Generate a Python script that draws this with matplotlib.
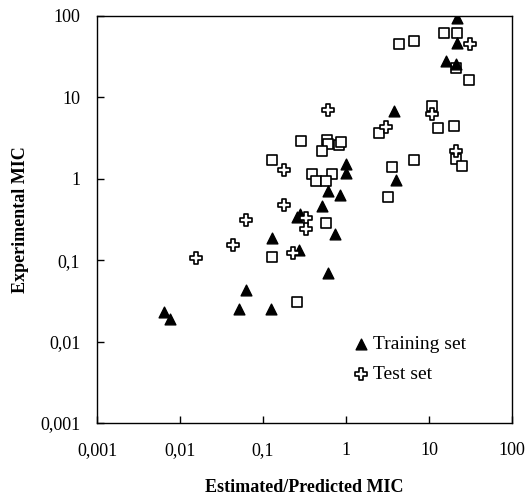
import matplotlib
matplotlib.use("Agg")
import matplotlib.pyplot as plt
from matplotlib.ticker import FixedLocator, FixedFormatter

plt.rcParams['font.family'] = ['Liberation Serif', 'DejaVu Serif']

# Training set (filled triangles)
train_x = [22, 22, 16, 21, 3.8, 1.0, 1.0, 4.0, 0.6, 0.85, 0.52, 0.26, 0.28, 0.74,
           0.127, 0.27, 0.6, 0.062, 0.051, 0.125, 0.0065, 0.0075]
train_y = [95, 47, 28, 26, 6.8, 1.5, 1.17, 0.97, 0.70, 0.64, 0.46, 0.34, 0.37, 0.21,
           0.19, 0.135, 0.07, 0.043, 0.025, 0.025, 0.023, 0.019]

# Test set (open crosses)
test_x = [31, 0.61, 3.0, 11, 21, 0.18, 0.18, 0.062, 0.33, 0.33, 0.044, 0.0156, 0.23]
test_y = [45, 7.1, 4.3, 6.3, 2.2, 1.3, 0.47, 0.31, 0.33, 0.24, 0.155, 0.107, 0.123]

# Other compounds (open squares)
sq_x = [15, 22, 4.4, 6.6, 21, 30, 11, 13, 20, 2.5, 0.29, 0.59, 0.61, 0.83, 0.88,
        0.52, 0.127, 3.6, 6.6, 21, 25, 0.39, 0.67, 0.44, 0.57, 3.2, 0.58, 0.127, 0.255]
sq_y = [62, 62, 45, 50, 23, 16.5, 7.8, 4.2, 4.4, 3.7, 2.9, 3.0, 2.7, 2.6, 2.8,
        2.2, 1.7, 1.4, 1.7, 1.75, 1.42, 1.13, 1.13, 0.93, 0.93, 0.6, 0.29, 0.11, 0.031]

tick_vals = [0.001, 0.01, 0.1, 1, 10, 100]
tick_labels = ["0,001", "0,01", "0,1", "1", "10", "100"]

fig = plt.figure(figsize=(5.27, 4.96), dpi=100)
ax = fig.add_axes([97/527, 1-423/496, (512-97)/527, (423-16)/496])

ax.scatter(sq_x, sq_y, marker='s', s=42, facecolors='white', edgecolors='black',
           linewidths=1.2, zorder=2)
ax.scatter(train_x, train_y, marker='^', s=60, color='black', zorder=3,
           label='Training set')
ax.scatter(test_x, test_y, marker='P', s=65, facecolors='white', edgecolors='black',
           linewidths=1.2, zorder=4, label='Test set')

ax.set_xscale('log')
ax.set_yscale('log')
ax.set_xlim(0.001, 100)
ax.set_ylim(0.001, 100)

for axis in (ax.xaxis, ax.yaxis):
    axis.set_major_locator(FixedLocator(tick_vals))
    axis.set_major_formatter(FixedFormatter(tick_labels))
    axis.set_minor_locator(FixedLocator([]))

ax.tick_params(axis='both', direction='in', length=5, width=1, labelsize=13,
               top=False, right=False)
ax.tick_params(axis='x', pad=14)
ax.tick_params(axis='y', pad=12)

for sp in ax.spines.values():
    sp.set_linewidth(1.0)

ax.set_xlabel('Estimated/Predicted MIC', fontsize=13, fontweight='bold', labelpad=14)
ax.set_ylabel('Experimental MIC', fontsize=13, fontweight='bold', labelpad=8)

ax.legend(loc='upper left', bbox_to_anchor=((342-97)/415, 1 - (328-16)/407),
          bbox_transform=ax.transAxes, frameon=False, fontsize=14,
          handletextpad=0.0, borderaxespad=0, labelspacing=0.62, handlelength=1.2)

fig.savefig('out.png', dpi=100)
